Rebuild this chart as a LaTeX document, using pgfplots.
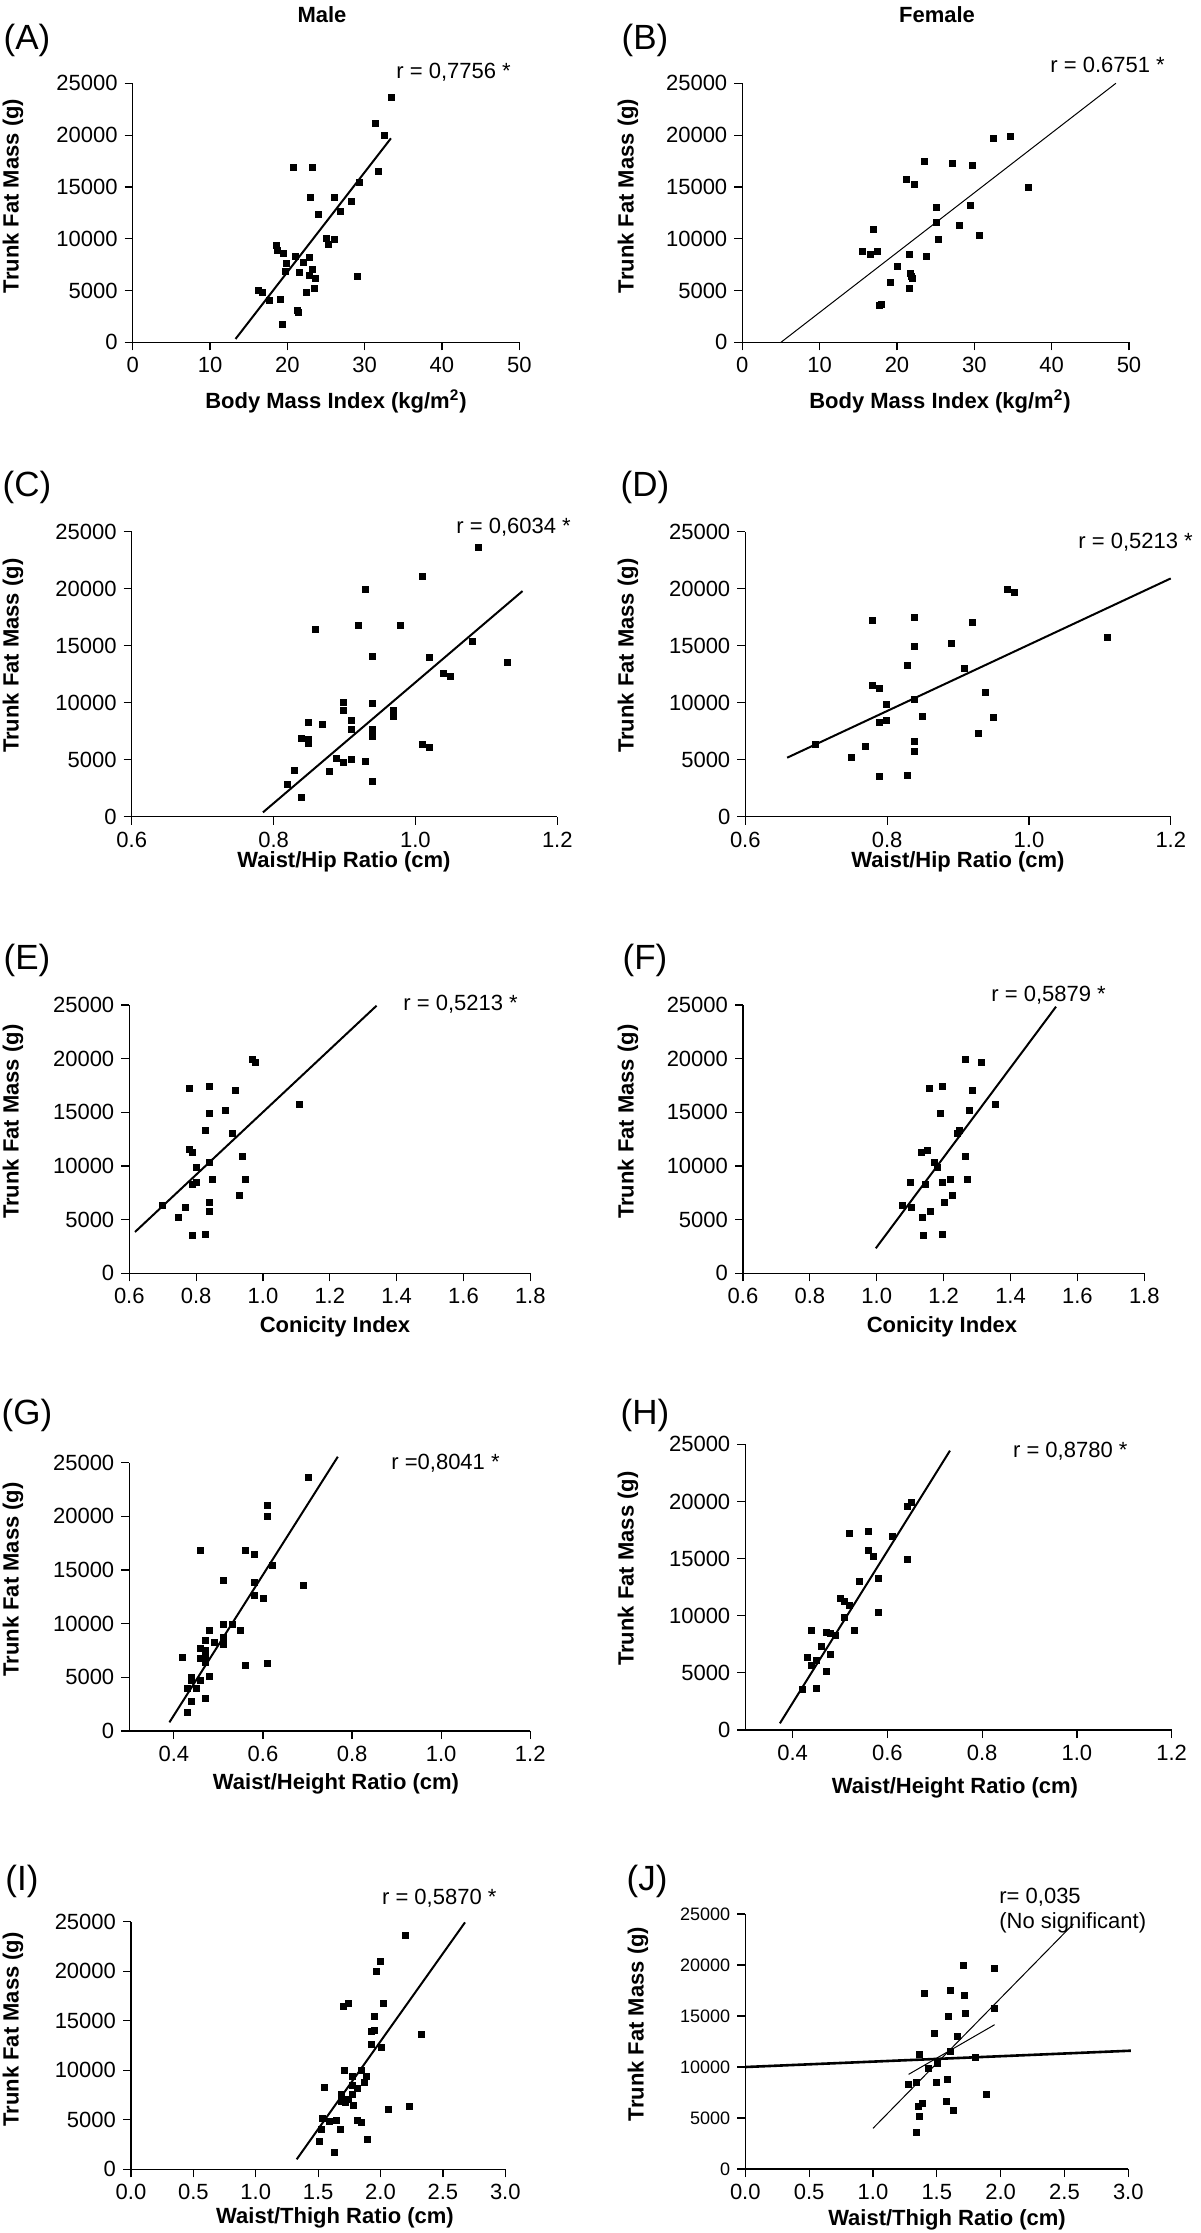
\documentclass[border=0pt]{standalone}
\usepackage{fontspec}
\setmainfont{Liberation Sans}
\usepackage{pgfplots}
\pgfplotsset{compat=1.18}
\newcommand\lab{\fontsize{11}{13}\selectfont\bfseries}
\newcommand\rtx{\fontsize{11}{13}\selectfont}
\newcommand\plet{\fontsize{17.5}{20}\selectfont}
\pgfplotsset{
 panel/.style={
  scale only axis, anchor=south west, clip=false,
  axis x line=bottom, axis y line=left,
  axis line style={-, line width=0.6pt},
  every outer x axis line/.append style={-},
  every outer y axis line/.append style={-},
  tick align=outside, major tick length=4pt,
  tick style={black, line width=0.6pt},
  scaled y ticks=false, scaled x ticks=false,
  ymin=0, ymax=25000, ytick={0,5000,10000,15000,20000,25000},
  yticklabels={0,5000,10000,15000,20000,25000},
  tick label style={font=\fontsize{11}{12}\selectfont},
  enlargelimits=false, minor tick num=0,
 },
 pts/.style={only marks, mark=square*, mark size=1.5pt, black, mark options={line width=0.3pt}},
 fit/.style={black, line width=1pt, no marks},
 bmi/.style={xmin=0, xmax=50, xtick={0,10,20,30,40,50}, xticklabels={0,10,20,30,40,50}},
 whr/.style={xmin=0.6, xmax=1.2, xtick={0.6,0.8,1.0,1.2}, xticklabels={0.6,0.8,1.0,1.2}},
 con/.style={xmin=0.6, xmax=1.8, xtick={0.6,0.8,1.0,1.2,1.4,1.6,1.8}, xticklabels={0.6,0.8,1.0,1.2,1.4,1.6,1.8}},
 wht/.style={xmin=0.3, xmax=1.2, xtick={0.4,0.6,0.8,1.0,1.2}, xticklabels={0.4,0.6,0.8,1.0,1.2}},
 wth/.style={xmin=0, xmax=3, xtick={0,0.5,1,1.5,2,2.5,3}, xticklabels={0.0,0.5,1.0,1.5,2.0,2.5,3.0}},
}
\begin{document}
\begin{tikzpicture}
\useasboundingbox (0,0) rectangle (600pt,-1116.5pt);
% (A)
\begin{axis}[panel, bmi, at={(66.35pt,-171.15pt)}, width=193.3pt, height=129.5pt]
\addplot[pts] coordinates {(33.4,23650)(31.4,21107)(32.5,19980)(31.7,16474)(29.35,15444)(20.8,16860)(23.2,16860)(23.0,14028)(26.1,13964)(28.3,13642)(26.8,12645)(24.0,12355)(25.0,10039)(26.1,9942)(25.3,9459)(18.6,9331)(18.75,8848)(19.5,8559)(21.0,8269)(22.8,8172)(19.9,7658)(22.0,7690)(23.2,7079)(19.8,6821)(21.55,6757)(22.8,6435)(23.6,6146)(29.05,6403)(16.3,5019)(16.7,4826)(23.5,5180)(22.5,4826)(17.7,4054)(19.05,4118)(21.25,3089)(21.4,2864)(19.4,1770)};
\addplot[fit] coordinates {(13.3,322)(33.4,19691)};
\end{axis}
% (B)
\begin{axis}[panel, bmi, at={(371.15pt,-171.15pt)}, width=193.35pt, height=129.5pt]
\addplot[pts] coordinates {(32.4,19659)(34.6,19916)(23.5,17439)(27.2,17246)(29.7,17053)(21.2,15766)(22.3,15251)(37.0,14961)(25.1,13031)(29.5,13256)(25.1,11551)(28.0,11293)(30.6,10360)(17.0,10940)(25.3,9910)(15.5,8816)(16.55,8527)(17.5,8816)(21.6,8462)(23.8,8269)(20.1,7368)(21.7,6628)(21.85,6403)(22.0,6146)(19.1,5759)(21.55,5212)(18.0,3636)(17.75,3572)};
\addplot[black, line width=0.5pt, no marks] coordinates {(5.0,0)(48.3,25000)};
\end{axis}
% (C)
\begin{axis}[panel, whr, at={(65.85pt,-408.35pt)}, width=212.8pt, height=142.5pt]
\addplot[pts] coordinates {(1.089,23626)(1.009,21053)(0.929,19971)(0.859,16462)(0.919,16813)(0.979,16813)(1.080,15409)(0.939,14035)(1.019,13947)(1.130,13567)(1.039,12602)(1.049,12310)(0.899,10000)(0.939,9912)(0.899,9327)(0.969,9357)(0.969,8830)(0.910,8480)(0.849,8275)(0.869,8099)(0.910,7661)(0.939,7661)(0.939,7076)(0.839,6842)(0.849,6784)(0.849,6433)(1.009,6374)(1.019,6082)(0.889,5117)(0.899,4766)(0.910,5000)(0.929,4883)(0.829,4035)(0.879,3977)(0.819,2836)(0.939,3070)(0.839,1725)};
\addplot[fit] coordinates {(0.785,380)(1.151,19795)};
\end{axis}
% (D)
\begin{axis}[panel, whr, at={(372.65pt,-408.35pt)}, width=212.75pt, height=142.5pt]
\addplot[pts] coordinates {(0.970,19942)(0.980,19649)(0.779,17222)(0.839,17456)(0.920,17047)(1.110,15760)(0.890,15205)(0.839,14912)(0.829,13304)(0.909,12982)(0.779,11520)(0.789,11228)(0.939,10936)(0.839,10322)(0.799,9883)(0.799,8480)(0.789,8246)(0.849,8772)(0.950,8743)(0.699,6374)(0.769,6140)(0.839,6608)(0.839,5731)(0.929,7310)(0.749,5175)(0.789,3509)(0.829,3596)};
\addplot[fit] coordinates {(0.659,5175)(1.2,20904)};
\end{axis}
% (E)
\begin{axis}[panel, con, at={(64.65pt,-636.65pt)}, width=200.5pt, height=134.15pt]
\addplot[pts] coordinates {(0.969,19938)(0.978,19658)(0.779,17236)(0.838,17453)(0.918,17019)(1.109,15745)(0.888,15217)(0.838,14938)(0.828,13292)(0.909,13012)(0.779,11522)(0.790,11242)(0.938,10932)(0.838,10342)(0.800,9876)(0.800,8478)(0.790,8261)(0.849,8758)(0.948,8758)(0.698,6366)(0.768,6149)(0.838,6615)(0.838,5745)(0.929,7298)(0.748,5186)(0.790,3540)(0.828,3634)};
\addplot[fit] coordinates {(0.617,3851)(1.340,24938)};
\end{axis}
% (F)
\begin{axis}[panel, con, at={(371.5pt,-636.65pt)}, width=200.65pt, height=134.15pt]
\addplot[pts] coordinates {(1.264,19938)(1.312,19689)(1.156,17236)(1.197,17453)(1.285,17019)(1.353,15745)(1.277,15217)(1.191,14938)(1.240,13043)(1.248,13292)(1.152,11491)(1.134,11242)(1.264,10932)(1.173,10342)(1.182,9876)(1.100,8509)(1.146,8261)(1.219,8758)(1.270,8758)(1.197,8478)(1.076,6366)(1.104,6149)(1.201,6615)(1.160,5745)(1.226,7298)(1.136,5186)(1.139,3540)(1.197,3634)};
\addplot[fit] coordinates {(0.997,2329)(1.536,24845)};
\end{axis}
% (G)
\begin{axis}[panel, wht, at={(64.65pt,-865.5pt)}, width=200.5pt, height=134.15pt]
\addplot[pts] coordinates {(0.701,23634)(0.610,21056)(0.610,20000)(0.460,16801)(0.560,16801)(0.580,16460)(0.620,15404)(0.510,14006)(0.580,13882)(0.690,13602)(0.580,12640)(0.600,12329)(0.510,9969)(0.531,9969)(0.550,9348)(0.480,9348)(0.470,8478)(0.490,8261)(0.510,8727)(0.510,8106)(0.460,7671)(0.470,7484)(0.420,6832)(0.460,6770)(0.470,6925)(0.470,6429)(0.560,6087)(0.610,6335)(0.440,5000)(0.460,4752)(0.480,5062)(0.430,4006)(0.450,4006)(0.440,2795)(0.470,3075)(0.430,1739)(0.440,4752)};
\addplot[fit] coordinates {(0.390,807)(0.768,25559)};
\end{axis}
% (H)
\begin{axis}[panel, wht, at={(372.65pt,-865pt)}, width=213.2pt, height=142.85pt]
\addplot[pts] coordinates {(0.651,19895)(0.641,19603)(0.520,17182)(0.560,17415)(0.610,16949)(0.560,15694)(0.570,15198)(0.641,14907)(0.580,13244)(0.540,12981)(0.500,11494)(0.510,11231)(0.520,10881)(0.580,10327)(0.510,9831)(0.440,8751)(0.530,8722)(0.470,8518)(0.480,8460)(0.490,8256)(0.460,7293)(0.430,6359)(0.480,6593)(0.450,6126)(0.440,5689)(0.470,5163)(0.420,3559)(0.450,3617)};
\addplot[fit] coordinates {(0.373,583)(0.732,24446)};
\end{axis}
% (I)
\begin{axis}[panel, wth, at={(65.5pt,-1084.65pt)}, width=187.15pt, height=123.8pt]
\addplot[pts] coordinates {(2.201,23620)(2.001,21030)(1.964,19987)(1.702,16454)(1.745,16790)(2.025,16790)(1.948,15444)(1.924,13964)(1.948,14031)(2.330,13594)(1.924,12618)(2.004,12315)(1.707,9993)(1.846,9993)(1.777,9421)(1.889,9354)(1.870,8782)(1.777,8513)(1.550,8244)(1.817,8143)(1.686,7604)(1.777,7604)(1.742,7066)(1.686,6830)(1.721,6763)(1.779,6427)(2.065,6057)(2.234,6359)(1.534,5114)(1.643,4980)(1.592,4812)(1.817,4980)(1.849,4778)(1.523,4004)(1.675,4004)(1.507,2826)(1.894,3062)(1.627,1750)};
\addplot[fit] coordinates {(1.328,1009)(2.677,24933)};
\end{axis}
% (J)
\begin{axis}[panel, wth, at={(372.65pt,-1084.5pt)}, width=191.5pt, height=127.5pt,
  yticklabel style={font=\fontsize{9}{10}\selectfont}]
\addplot[pts] coordinates {(1.705,19967)(1.953,19673)(1.405,17255)(1.608,17484)(1.715,17026)(1.953,15784)(1.723,15261)(1.590,14967)(1.478,13301)(1.661,13007)(1.360,11275)(1.603,11536)(1.804,10948)(1.501,10327)(1.431,9902)(1.277,8268)(1.342,8497)(1.499,8464)(1.580,8791)(1.885,7353)(1.389,6405)(1.352,6176)(1.577,6601)(1.629,5752)(1.360,5196)(1.342,3562)};
\addplot[black, line width=1.3pt, no marks] coordinates {(0,10000)(3.02,11601)};
\addplot[black, line width=0.5pt, no marks] coordinates {(1.0,3987)(2.569,24020)};
\addplot[black, line width=0.5pt, no marks] coordinates {(1.279,9281)(1.953,14150)};
\end{axis}
% titles
\node[font=\lab] at (161pt,-7.5pt) {Male};
\node[font=\lab] at (468.5pt,-7.5pt) {Female};
% panel letters
\node[font=\plet] at (13.5pt,-20pt) {(A)};
\node[font=\plet] at (322.5pt,-20pt) {(B)};
\node[font=\plet] at (13.5pt,-243.5pt) {(C)};
\node[font=\plet] at (322.5pt,-243.5pt) {(D)};
\node[font=\plet] at (13.5pt,-480pt) {(E)};
\node[font=\plet] at (322.5pt,-480pt) {(F)};
\node[font=\plet] at (13.5pt,-707.5pt) {(G)};
\node[font=\plet] at (322.5pt,-707.5pt) {(H)};
\node[font=\plet] at (11pt,-940.5pt) {(I)};
\node[font=\plet] at (323.5pt,-940.5pt) {(J)};
% y labels
\node[font=\lab, rotate=90] at (6.5pt,-98pt) {Trunk Fat Mass (g)};
\node[font=\lab, rotate=90] at (314pt,-98pt) {Trunk Fat Mass (g)};
\node[font=\lab, rotate=90] at (6.5pt,-327.9pt) {Trunk Fat Mass (g)};
\node[font=\lab, rotate=90] at (314pt,-327.9pt) {Trunk Fat Mass (g)};
\node[font=\lab, rotate=90] at (6.5pt,-560.9pt) {Trunk Fat Mass (g)};
\node[font=\lab, rotate=90] at (314pt,-560.9pt) {Trunk Fat Mass (g)};
\node[font=\lab, rotate=90] at (6.5pt,-789.7pt) {Trunk Fat Mass (g)};
\node[font=\lab, rotate=90] at (314pt,-784.3pt) {Trunk Fat Mass (g)};
\node[font=\lab, rotate=90] at (6.5pt,-1014.7pt) {Trunk Fat Mass (g)};
\node[font=\lab, rotate=90] at (319pt,-1012pt) {Trunk Fat Mass (g)};
% x labels
\node[font=\lab] at (168pt,-200.5pt) {Body Mass Index (kg/m\textsuperscript{2})};
\node[font=\lab] at (470pt,-200.5pt) {Body Mass Index (kg/m\textsuperscript{2})};
\node[font=\lab] at (172pt,-431pt) {Waist/Hip Ratio (cm)};
\node[font=\lab] at (479pt,-431pt) {Waist/Hip Ratio (cm)};
\node[font=\lab] at (167.5pt,-663.5pt) {Conicity Index};
\node[font=\lab] at (471pt,-663.5pt) {Conicity Index};
\node[font=\lab] at (168pt,-892pt) {Waist/Height Ratio (cm)};
\node[font=\lab] at (477.5pt,-894pt) {Waist/Height Ratio (cm)};
\node[font=\lab] at (167.5pt,-1109pt) {Waist/Thigh Ratio (cm)};
\node[font=\lab] at (473.5pt,-1110pt) {Waist/Thigh Ratio (cm)};
% r values
\node[font=\rtx, anchor=west, inner sep=0pt] at (198pt,-36pt) {r = 0,7756 *};
\node[font=\rtx, anchor=west, inner sep=0pt] at (525pt,-32.5pt) {r = 0.6751 *};
\node[font=\rtx, anchor=west, inner sep=0pt] at (228pt,-263.4pt) {r = 0,6034 *};
\node[font=\rtx, anchor=west, inner sep=0pt] at (539pt,-270.9pt) {r = 0,5213 *};
\node[font=\rtx, anchor=west, inner sep=0pt] at (201.5pt,-502pt) {r = 0,5213 *};
\node[font=\rtx, anchor=west, inner sep=0pt] at (495.5pt,-497.5pt) {r = 0,5879 *};
\node[font=\rtx, anchor=west, inner sep=0pt] at (195.5pt,-731.5pt) {r =0,8041 *};
\node[font=\rtx, anchor=west, inner sep=0pt] at (506.35pt,-725.85pt) {r = 0,8780 *};
\node[font=\rtx, anchor=west, inner sep=0pt] at (190.85pt,-949pt) {r = 0,5870 *};
\node[font=\rtx, anchor=west, inner sep=0pt] at (499.5pt,-948.85pt) {r= 0,035};
\node[font=\rtx, anchor=west, inner sep=0pt] at (499.5pt,-961.15pt) {(No significant)};
\end{tikzpicture}
\end{document}
